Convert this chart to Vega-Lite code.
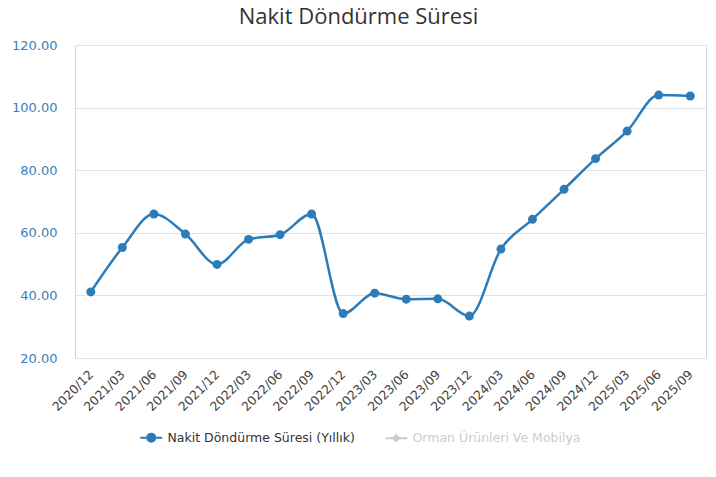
{
  "$schema": "https://vega.github.io/schema/vega-lite/v6.json",
  "width": 631,
  "height": 313,
  "autosize": {"type": "none"},
  "padding": {"left": 75, "top": 45, "right": 10, "bottom": 119},
  "background": "#ffffff",
  "title": {
    "text": "Nakit Döndürme Süresi",
    "anchor": "middle",
    "dx": -32,
    "offset": 10,
    "fontSize": 22,
    "font": "Open Sans",
    "fontWeight": "normal",
    "color": "#333333"
  },
  "config": {
    "view": {"stroke": "#ccd6eb", "strokeWidth": 1},
    "font": "DejaVu Sans"
  },
  "data": {
    "values": [
      {"period": "2020/12", "value": 41.1, "series": "Nakit Döndürme Süresi (Yıllık)"},
      {"period": "2021/03", "value": 55.3, "series": "Nakit Döndürme Süresi (Yıllık)"},
      {"period": "2021/06", "value": 66.0, "series": "Nakit Döndürme Süresi (Yıllık)"},
      {"period": "2021/09", "value": 59.6, "series": "Nakit Döndürme Süresi (Yıllık)"},
      {"period": "2021/12", "value": 49.9, "series": "Nakit Döndürme Süresi (Yıllık)"},
      {"period": "2022/03", "value": 57.9, "series": "Nakit Döndürme Süresi (Yıllık)"},
      {"period": "2022/06", "value": 59.4, "series": "Nakit Döndürme Süresi (Yıllık)"},
      {"period": "2022/09", "value": 66.0, "series": "Nakit Döndürme Süresi (Yıllık)"},
      {"period": "2022/12", "value": 34.2, "series": "Nakit Döndürme Süresi (Yıllık)"},
      {"period": "2023/03", "value": 40.7, "series": "Nakit Döndürme Süresi (Yıllık)"},
      {"period": "2023/06", "value": 38.8, "series": "Nakit Döndürme Süresi (Yıllık)"},
      {"period": "2023/09", "value": 38.9, "series": "Nakit Döndürme Süresi (Yıllık)"},
      {"period": "2023/12", "value": 33.4, "series": "Nakit Döndürme Süresi (Yıllık)"},
      {"period": "2024/03", "value": 54.8, "series": "Nakit Döndürme Süresi (Yıllık)"},
      {"period": "2024/06", "value": 64.3, "series": "Nakit Döndürme Süresi (Yıllık)"},
      {"period": "2024/09", "value": 73.9, "series": "Nakit Döndürme Süresi (Yıllık)"},
      {"period": "2024/12", "value": 83.7, "series": "Nakit Döndürme Süresi (Yıllık)"},
      {"period": "2025/03", "value": 92.5, "series": "Nakit Döndürme Süresi (Yıllık)"},
      {"period": "2025/06", "value": 104.0, "series": "Nakit Döndürme Süresi (Yıllık)"},
      {"period": "2025/09", "value": 103.7, "series": "Nakit Döndürme Süresi (Yıllık)"}
    ]
  },
  "mark": {
    "type": "line",
    "interpolate": "monotone",
    "strokeWidth": 2.5,
    "point": {"filled": true, "size": 80}
  },
  "encoding": {
    "x": {
      "field": "period",
      "type": "ordinal",
      "scale": {"type": "point", "padding": 0.5},
      "axis": {
        "title": null,
        "labelAngle": -45,
        "labelAlign": "right",
        "labelBaseline": "middle",
        "labelFontSize": 12.5,
        "labelColor": "#444444",
        "ticks": false,
        "domain": false,
        "labelPadding": 14,
        "grid": false
      }
    },
    "y": {
      "field": "value",
      "type": "quantitative",
      "scale": {"domain": [20, 120], "nice": false},
      "axis": {
        "title": null,
        "format": ".2f",
        "values": [20, 40, 60, 80, 100, 120],
        "labelFontSize": 13,
        "labelColor": "#3b80bb",
        "ticks": false,
        "domain": false,
        "labelPadding": 18,
        "gridColor": "#e3e3e3",
        "gridWidth": 1
      }
    },
    "color": {
      "field": "series",
      "type": "nominal",
      "scale": {
        "domain": ["Nakit Döndürme Süresi (Yıllık)", "Orman Ürünleri Ve Mobilya"],
        "range": ["#2b7cb9", "#cccccc"]
      },
      "legend": {
        "title": null,
        "orient": "none",
        "direction": "horizontal",
        "legendX": 70,
        "legendY": 386,
        "labelFontSize": 12.5,
        "labelLimit": 400,
        "labelColor": "#333333",
        "symbolSize": 100,
        "symbolStrokeWidth": 2,
        "columnPadding": 26,
        "labelOffset": 10,
        "symbolType": "M-2.2,0H2.2M-0.8,0a0.8,0.8 0 1,0 1.6,0a0.8,0.8 0 1,0 -1.6,0",
        "encode": {
          "labels": {"update": {"fill": {"signal": "datum.value === 'Orman Ürünleri Ve Mobilya' ? '#cccccc' : '#333333'"}}},
          "symbols": {"update": {"shape": {"signal": "datum.value === 'Orman Ürünleri Ve Mobilya' ? 'M-2.2,0H2.2M0,-0.6L0.6,0L0,0.6L-0.6,0Z' : 'M-2.2,0H2.2M-0.8,0a0.8,0.8 0 1,0 1.6,0a0.8,0.8 0 1,0 -1.6,0'"}}}
        }
      }
    }
  }
}
